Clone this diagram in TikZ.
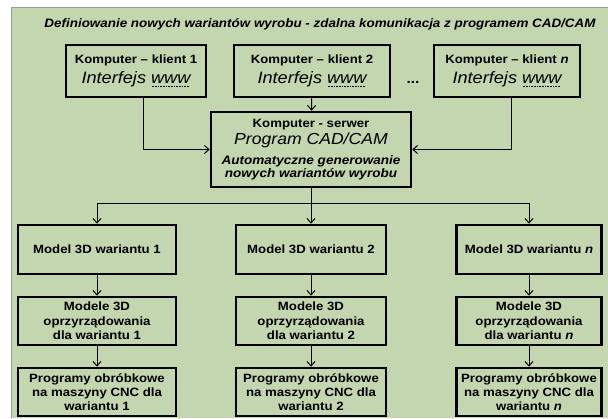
\documentclass[tikz,border=0pt]{standalone}
\usepackage{fontspec}
\setmainfont{Liberation Sans}[FakeStretch=1.1]
\usetikzlibrary{arrows.meta}

\definecolor{tlo}{RGB}{196,214,176}
\definecolor{ramka}{RGB}{150,160,145}

% kropkowane podkreslenie (jak w oryginale)
\newcommand\wwwpod[1]{\setbox0\hbox{#1}\rlap{\hbox to \wd0{\leaders\hbox to 1.6pt{\hss\vrule width 0.8pt height -2.2pt depth 3pt\hss}\hfil}}\box0}
\newcommand\duzy{\normalfont\itshape\fontsize{16.5}{19}\selectfont}
\newcommand\opis{\fontsize{12.3}{13.5}\selectfont\itshape}

\tikzset{
    blok/.style={draw, line width=2.6pt, fill=tlo, align=center, inner sep=2pt,
                 font=\bfseries\fontsize{12}{14.3}\selectfont},
}

\begin{document}
\begin{tikzpicture}[x=1pt, y=-1pt, >={Straight Barb[length=4.5pt, width=8pt]}, line width=1pt]
    \useasboundingbox (0,0) rectangle (608,418);
    \fill[tlo] (11,7) rectangle (608,418);
    \draw[ramka, line width=0.8pt] (11,418) -- (11,7) -- (608,7);

    \node[font=\bfseries\itshape\fontsize{12.2}{14}\selectfont] (tytul) at (320,24)
        {Definiowanie nowych wariantów wyrobu - zdalna komunikacja z programem CAD/CAM};

    % klienci
    \node[blok, minimum width=140, minimum height=52] (k1) at (136,71)
        {Komputer -- klient 1\\[4pt] {\duzy Interfejs \wwwpod{www}}};
    \node[blok, minimum width=156, minimum height=52] (k2) at (312,71)
        {Komputer -- klient 2\\[4pt] {\duzy Interfejs \wwwpod{www}}};
    \node[blok, minimum width=146, minimum height=52] (kn) at (507,71)
        {Komputer -- klient \textit{n}\\[4pt] {\duzy Interfejs \wwwpod{www}}};
    \node[font=\bfseries\fontsize{14}{14}\selectfont] (kropki) at (413,82) {...};

    % serwer
    \node[blok, minimum width=200, minimum height=75, inner sep=1pt] (serw) at (311,149.5)
        {Komputer - serwer\\[3pt]
         {\normalfont\itshape\fontsize{16}{19}\selectfont Program CAD/CAM}\\[6pt]
         {\opis Automatyczne generowanie}\\[-1.5pt] {\opis nowych wariantów wyrobu}};

    % modele wariantow
    \node[blok, minimum width=158, minimum height=49] (m1) at (97,249.5) {Model 3D wariantu 1};
    \node[blok, minimum width=150, minimum height=49] (m2) at (311,249.5) {Model 3D wariantu 2};
    \node[blok, minimum width=145, minimum height=49] (m3) at (529,249.5) {Model 3D wariantu \textit{n}};

    \node[blok, minimum width=158, minimum height=48] (o1) at (97,321) {Modele 3D\\ oprzyrządowania\\ dla wariantu 1};
    \node[blok, minimum width=150, minimum height=48] (o2) at (311,321) {Modele 3D\\ oprzyrządowania\\ dla wariantu 2};
    \node[blok, minimum width=145, minimum height=48] (o3) at (529,321) {Modele 3D\\ oprzyrządowania\\ dla wariantu \textit{n}};

    \node[blok, minimum width=158, minimum height=48] (p1) at (97,392) {Programy obróbkowe\\ na maszyny CNC dla\\ wariantu 1};
    \node[blok, minimum width=150, minimum height=48] (p2) at (311,392) {Programy obróbkowe\\ na maszyny CNC dla\\ wariantu 2};
    \node[blok, minimum width=145, minimum height=48] (p3) at (529,392) {Programy obróbkowe\\ na maszyny CNC dla\\ wariantu \textit{n}};

    % polaczenia
    \draw[->] ([xshift=7pt]k1.south) |- (serw.west);
    \draw[->] ([xshift=4pt]kn.south) |- (serw.east);
    \draw[->] (k2) -- (serw);

    \coordinate (szyna) at (311,203);
    \draw[->] (serw) -- (m2);
    \draw[->] (szyna) -| (m1);
    \draw[->] (szyna) -| (m3);

    \draw[->] (m1) -- (o1);
    \draw[->] (m2) -- (o2);
    \draw[->] (m3) -- (o3);
    \draw[->] (o1) -- (p1);
    \draw[->] (o2) -- (p2);
    \draw[->] (o3) -- (p3);
\end{tikzpicture}
\end{document}
